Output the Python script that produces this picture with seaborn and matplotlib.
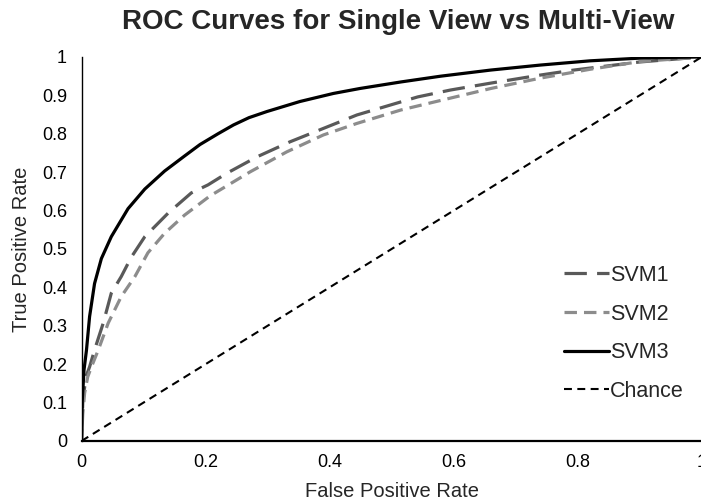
import matplotlib
matplotlib.use("Agg")
import matplotlib.pyplot as plt
import seaborn as sns
import pandas as pd
from matplotlib.ticker import FormatStrFormatter, MultipleLocator

# ROC curve samples (false positive rate, true positive rate)
svm1_fpr = [0, 0.002, 0.007, 0.013, 0.021, 0.035, 0.048, 0.064, 0.08, 0.102,
            0.14, 0.177, 0.204, 0.234, 0.283, 0.336, 0.39, 0.444, 0.542,
            0.595, 0.66, 0.74, 0.794, 0.9, 1.0]
svm1_tpr = [0, 0.1, 0.167, 0.193, 0.237, 0.307, 0.385, 0.428, 0.478, 0.532,
            0.594, 0.646, 0.667, 0.697, 0.74, 0.779, 0.814, 0.849, 0.896,
            0.914, 0.932, 0.953, 0.966, 0.987, 1.0]

svm2_fpr = [0, 0.002, 0.005, 0.01, 0.016, 0.027, 0.043, 0.064, 0.086, 0.107,
            0.134, 0.166, 0.207, 0.272, 0.331, 0.39, 0.444, 0.515, 0.595,
            0.66, 0.74, 0.82, 0.9, 1.0]
svm2_tpr = [0, 0.07, 0.125, 0.167, 0.193, 0.237, 0.307, 0.376, 0.428, 0.49,
            0.541, 0.588, 0.638, 0.701, 0.753, 0.797, 0.827, 0.862, 0.893,
            0.918, 0.945, 0.968, 0.988, 1.0]

svm3_fpr = [0, 0.001, 0.004, 0.008, 0.013, 0.021, 0.032, 0.048, 0.075, 0.102,
            0.134, 0.166, 0.191, 0.22, 0.245, 0.27, 0.299, 0.352, 0.406,
            0.449, 0.515, 0.579, 0.66, 0.74, 0.82, 0.9, 0.95, 1.0]
svm3_tpr = [0, 0.1, 0.185, 0.237, 0.324, 0.41, 0.475, 0.532, 0.605, 0.656,
            0.703, 0.742, 0.772, 0.8, 0.823, 0.842, 0.858, 0.884, 0.905,
            0.918, 0.935, 0.95, 0.966, 0.979, 0.99, 0.997, 0.999, 1.0]

chance_fpr = [0, 1]
chance_tpr = [0, 1]

series_names = ["SVM1", "SVM2", "SVM3", "Chance"]

sns.set_style("white")
plt.rcParams["font.family"] = ["Liberation Sans", "DejaVu Sans"]

fig = plt.figure(figsize=(7.01, 5.03), dpi=100)
ax = fig.add_axes([0.1163, 0.1233, 0.8847, 0.7634])

styles = {
    "SVM1": dict(color="#595959", linewidth=2.3, linestyle=(0, (7, 3.2))),
    "SVM2": dict(color="#8c8c8c", linewidth=2.3, linestyle=(0, (3.9, 2.2))),
    "SVM3": dict(color="#000000", linewidth=2.3, linestyle="-"),
    "Chance": dict(color="#000000", linewidth=1.5, linestyle=(0, (3.8, 2.6))),
}
data = {
    "SVM1": (svm1_fpr, svm1_tpr),
    "SVM2": (svm2_fpr, svm2_tpr),
    "SVM3": (svm3_fpr, svm3_tpr),
    "Chance": (chance_fpr, chance_tpr),
}

handles = []
for name in series_names:
    fpr, tpr = data[name]
    df = pd.DataFrame({"fpr": fpr, "tpr": tpr})
    sns.lineplot(data=df, x="fpr", y="tpr", ax=ax, estimator=None,
                 sort=False, legend=False, **styles[name])
    handles.append(ax.lines[-1])

ax.set_xlim(0, 1)
ax.set_ylim(0, 1)
ax.xaxis.set_major_locator(MultipleLocator(0.2))
ax.yaxis.set_major_locator(MultipleLocator(0.1))
ax.xaxis.set_major_formatter(FormatStrFormatter("%g"))
ax.yaxis.set_major_formatter(FormatStrFormatter("%g"))
ax.tick_params(axis="both", length=0, labelsize=13, colors="#000000")
ax.tick_params(axis="x", pad=9.5)
ax.tick_params(axis="y", pad=10.5)

for side in ("top", "right"):
    ax.spines[side].set_visible(False)
ax.spines["left"].set_color("#000000")
ax.spines["left"].set_linewidth(1.0)
ax.spines["bottom"].set_color("#000000")
ax.spines["bottom"].set_linewidth(1.6)

ax.set_xlabel("False Positive Rate", fontsize=14.5, labelpad=8)
ax.set_ylabel("True Positive Rate", fontsize=14.5, labelpad=8)
fig.suptitle("ROC Curves for Single View vs Multi-View", fontsize=20,
             fontweight="bold", x=0.568, y=0.982)

ax.legend(handles, series_names, loc="center left",
          bbox_to_anchor=(0.746, 0.28), frameon=False, fontsize=15.5,
          handlelength=2.1, handletextpad=0.05, labelspacing=0.82)

fig.savefig("out.png", dpi=100)
